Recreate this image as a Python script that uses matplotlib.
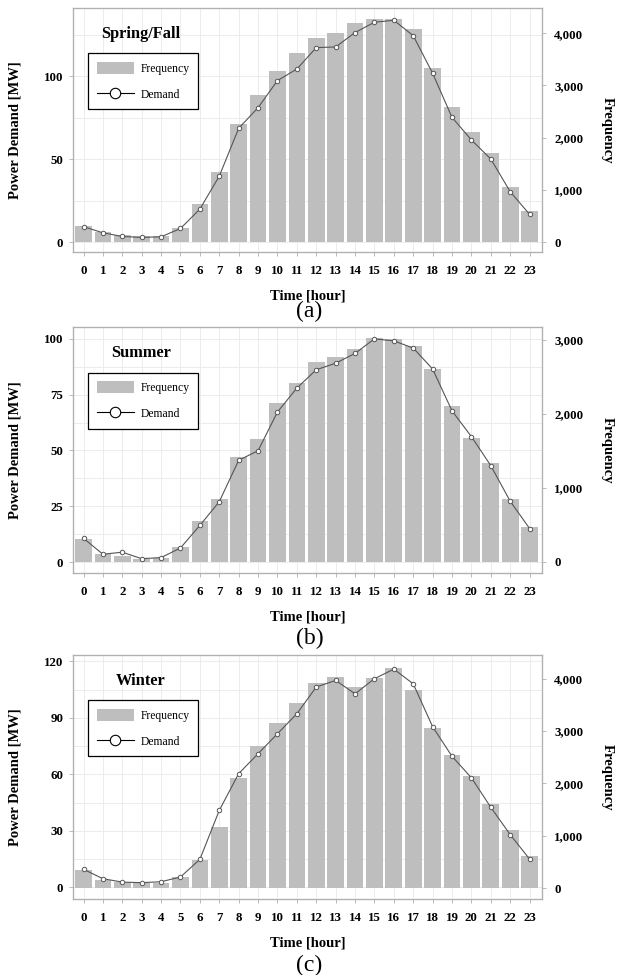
import matplotlib
matplotlib.use("Agg")
import matplotlib.pyplot as plt
from matplotlib.patches import Patch
from matplotlib.lines import Line2D
from matplotlib.ticker import MultipleLocator, FuncFormatter

plt.rcParams['font.family'] = ['Liberation Serif', 'DejaVu Serif']

hours = list(range(24))

# Spring/Fall
freq_spring = [307, 185, 134, 115, 121, 268, 722, 1342, 2262, 2824, 3278, 3629,
               3917, 4006, 4204, 4268, 4275, 4077, 3329, 2588, 2115, 1706, 1048, 594]
demand_spring = [9.3, 5.6, 3.4, 2.8, 3.2, 8.2, 19.9, 39.8, 68.6, 81.1, 97.4, 104.4,
                 117.3, 117.7, 126.4, 132.6, 133.8, 124.5, 101.8, 75.2, 61.6, 50.1, 30.4, 16.7]

# Summer
freq_summer = [311, 108, 81, 45, 54, 198, 554, 851, 1419, 1658, 2153, 2423,
               2698, 2775, 2874, 3027, 3014, 2914, 2604, 2113, 1676, 1333, 847, 473]
demand_summer = [10.7, 3.6, 4.5, 1.6, 2.1, 6.4, 16.5, 27.1, 45.6, 49.9, 67.2, 77.9,
                 86.1, 89.0, 93.4, 99.9, 99.0, 95.8, 86.4, 67.7, 56.2, 43.2, 27.3, 15.1]

# Winter
freq_winter = [344, 153, 115, 89, 102, 217, 529, 1166, 2102, 2720, 3146, 3529,
               3917, 4032, 3834, 4019, 4210, 3783, 3051, 2541, 2134, 1605, 1108, 605]
demand_winter = [9.6, 4.6, 2.8, 2.5, 3.0, 5.5, 14.9, 40.9, 60.4, 71.0, 81.6, 92.2,
                 106.4, 109.9, 102.8, 110.8, 115.9, 108.1, 85.3, 69.6, 58.2, 42.5, 28.0, 15.0]

seasons = ['Spring/Fall', 'Summer', 'Winter']
panel_letters = ['(a)', '(b)', '(c)']

# per-panel layout: [left, bottom, width, height], left ylim, right ylim, left tick step
panels = [
    dict(rect=[0.118, 0.7415, 0.757, 0.2503], ylim=(-6.0, 141.2), rlim=(-192, 4485),
         step=50, rstep=1000, freq=freq_spring, demand=demand_spring, letter_y=0.681),
    dict(rect=[0.118, 0.4123, 0.757, 0.2523], ylim=(-4.8, 105.2), rlim=(-149, 3176),
         step=25, rstep=1000, freq=freq_summer, demand=demand_summer, letter_y=0.3456),
    dict(rect=[0.118, 0.0779, 0.757, 0.2503], ylim=(-6.2, 123.4), rlim=(-210, 4452),
         step=30, rstep=1000, freq=freq_winter, demand=demand_winter, letter_y=0.0103),
]

bar_color = '#bebebe'
line_color = '#555555'
spine_color = '#b0b0b0'
grid_color = '#ececec'

fig = plt.figure(figsize=(6.19, 9.75), dpi=100)

for season, letter, p in zip(seasons, panel_letters, panels):
    ax = fig.add_axes(p['rect'])          # grid + left axis
    ax_r = ax.twinx()                     # bars (Frequency)
    ax_l = ax.twinx()                     # line (Demand)

    ax.set_xlim(-0.54, 23.62)
    ax.set_ylim(*p['ylim'])
    ax_l.set_ylim(*p['ylim'])
    ax_r.set_ylim(*p['rlim'])

    ax_r.bar(hours, p['freq'], width=0.86, color=bar_color, edgecolor='none')
    ax_l.plot(hours, p['demand'], color=line_color, lw=0.8, marker='o', ms=3.2,
              mfc='white', mec=line_color, mew=0.7)

    # grid
    ax.set_xticks(hours)
    ax.yaxis.set_major_locator(MultipleLocator(p['step']))
    ax.yaxis.set_minor_locator(MultipleLocator(p['step'] / 2))
    ax.grid(True, which='both', color=grid_color, lw=0.7)
    ax.tick_params(which='minor', length=0)
    ax_r.yaxis.set_major_locator(MultipleLocator(p['rstep']))
    ax_r.yaxis.set_major_formatter(FuncFormatter(lambda v, pos: f'{int(v):,}'))

    ax_l.set_yticks([])
    for a in (ax, ax_r, ax_l):
        for s in a.spines.values():
            s.set_color(spine_color)
            s.set_linewidth(0.8)

    ax.tick_params(axis='both', which='major', colors=spine_color, length=3, width=0.6)
    ax_r.tick_params(axis='y', colors=spine_color, length=3, width=0.6)
    for lab in ax.get_xticklabels() + ax.get_yticklabels() + ax_r.get_yticklabels():
        lab.set_color('black')
        lab.set_fontweight('bold')
        lab.set_fontsize(9.3)
    ax.tick_params(axis='x', pad=6)
    ax.tick_params(axis='y', pad=4)
    ax_r.tick_params(axis='y', pad=6)

    ax.set_xlabel('Time [hour]', fontsize=10.5, fontweight='bold')
    ax.xaxis.set_label_coords(0.5, -0.152)
    ax.set_ylabel('Power Demand [MW]', fontsize=10.5, fontweight='bold')
    ax.yaxis.set_label_coords(-0.109, 0.5)
    ax_r.set_ylabel('Frequency', fontsize=10.5, fontweight='bold', rotation=270, va='center')
    ax_r.yaxis.set_label_coords(1.141, 0.5)

    ax.text(0.145, 0.895, season, transform=ax.transAxes, fontsize=11.8,
            fontweight='bold', ha='center', va='center')

    handles = [Patch(facecolor=bar_color, edgecolor='none', label='Frequency'),
               Line2D([], [], color='black', lw=0.8, marker='o', ms=7.5, mfc='white',
                      mec='black', mew=0.8, label='Demand')]
    leg = ax_l.legend(handles=handles, loc='upper left', bbox_to_anchor=(0.0324, 0.814),
                      borderaxespad=0, fancybox=False, framealpha=1, edgecolor='black',
                      fontsize=8.4, handlelength=3.2, handleheight=1.2,
                      labelspacing=1.15, borderpad=0.72, handletextpad=0.55)
    leg.get_frame().set_linewidth(0.9)

    fig.text(0.5, p['letter_y'], letter, fontsize=17, ha='center', va='center')

fig.savefig('out.png', dpi=100)
